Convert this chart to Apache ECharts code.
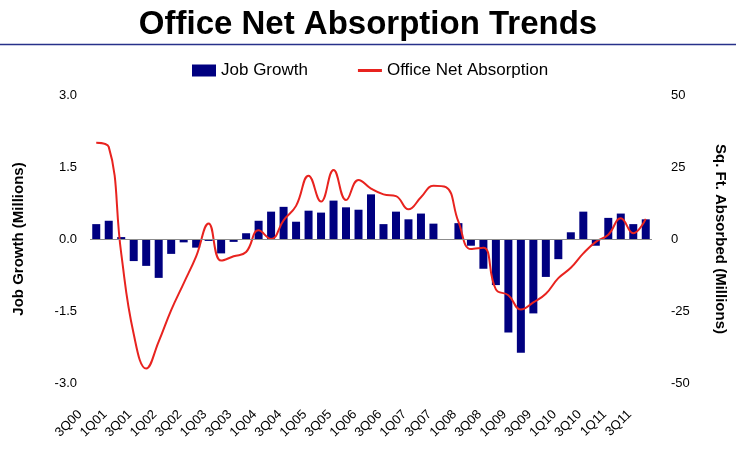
<!DOCTYPE html>
<html>
<head>
<meta charset="utf-8">
<script src="https://cdn.jsdelivr.net/npm/echarts@6/dist/echarts.min.js"></script>
<style>
  html, body { margin: 0; padding: 0; background: #ffffff; }
  #chart { width: 736px; height: 454px; }
</style>
</head>
<body>
<div id="chart"></div>
<script>
const quarters = [
  "3Q00","4Q00",
  "1Q01","2Q01","3Q01","4Q01",
  "1Q02","2Q02","3Q02","4Q02",
  "1Q03","2Q03","3Q03","4Q03",
  "1Q04","2Q04","3Q04","4Q04",
  "1Q05","2Q05","3Q05","4Q05",
  "1Q06","2Q06","3Q06","4Q06",
  "1Q07","2Q07","3Q07","4Q07",
  "1Q08","2Q08","3Q08","4Q08",
  "1Q09","2Q09","3Q09","4Q09",
  "1Q10","2Q10","3Q10","4Q10",
  "1Q11","2Q11","3Q11"
];

// Job Growth (Millions) - left axis
const jobGrowth = [
  0.31, 0.38,
  0.04, -0.46, -0.56, -0.81,
  -0.31, -0.07, -0.18, -0.04,
  -0.30, -0.06, 0.12, 0.38,
  0.57, 0.67, 0.36, 0.59,
  0.55, 0.80, 0.66, 0.61,
  0.93, 0.31, 0.57, 0.41,
  0.53, 0.32, 0.00, 0.33,
  -0.14, -0.62, -0.96, -1.95,
  -2.37, -1.55, -0.79, -0.42,
  0.14, 0.57, -0.14, 0.44,
  0.53, 0.31, 0.41
];

// Office Net Absorption, Sq. Ft. Absorbed (Millions) - right axis
const netAbsorption = [
  33.4, 32.0,
  -5.0, -33.0, -45.0, -35.6,
  -24.7, -15.4, -6.0, 5.4,
  -7.5, -6.0, -4.5, 3.0,
  0.0, 6.5, 11.5, 22.0,
  13.0, 24.0, 13.5, 20.5,
  17.5, 15.5, 14.9, 10.3,
  14.5, 18.5, 18.0, 6.0,
  -3.5, -3.0, -17.5, -19.5,
  -24.5, -22.0, -19.0, -13.6,
  -10.0, -5.0, -1.0, 1.5,
  7.2, 2.0, 7.0
];

const leftTicks = [-3.0, -1.5, 0.0, 1.5, 3.0];
const rightTicks = [-50, -25, 0, 25, 50];

const FONT = '"Liberation Sans", Arial, sans-serif';

const chart = echarts.init(document.getElementById('chart'), null, { renderer: 'canvas' });

chart.setOption({
  backgroundColor: '#ffffff',
  animation: false,
  textStyle: { fontFamily: FONT },
  title: {
    text: 'Office Net Absorption Trends',
    left: 'center',
    top: 3,
    textStyle: { fontFamily: FONT, fontSize: 33, fontWeight: 'bold', color: '#000000' }
  },
  graphic: [
    {
      type: 'line',
      shape: { x1: 0, y1: 44.5, x2: 736, y2: 44.5 },
      style: { stroke: '#27318a', lineWidth: 1.5 },
      silent: true
    }
  ],
  legend: {
    left: 187,
    top: 57,
    itemWidth: 24,
    itemHeight: 12,
    itemGap: 50,
    symbolKeepAspect: true,
    textStyle: { fontFamily: FONT, fontSize: 17, color: '#000000' },
    data: [
      { name: 'Job Growth', icon: 'rect' },
      { name: 'Office Net Absorption', icon: 'path://M0,0H24V3H0Z' }
    ]
  },
  grid: {
    left: 90,
    right: 76,
    top: 95,
    bottom: 71,
    containLabel: false
  },
  xAxis: {
    type: 'category',
    data: quarters,
    boundaryGap: true,
    axisLine: { show: false, onZero: false },
    axisTick: { show: false },
    splitLine: { show: false },
    axisLabel: {
      interval: 1,
      rotate: 45,
      margin: 13,
      padding: [0, 23, 0, 0],
      fontFamily: FONT,
      fontSize: 13,
      color: '#000000'
    }
  },
  yAxis: [
    {
      type: 'value',
      min: leftTicks[0],
      max: leftTicks[leftTicks.length - 1],
      interval: 1.5,
      position: 'left',
      axisLine: { show: false },
      axisTick: { show: false },
      splitLine: { show: false },
      axisLabel: {
        margin: 13,
        fontFamily: FONT,
        fontSize: 13,
        color: '#000000',
        formatter: v => v.toFixed(1)
      },
      name: 'Job Growth (Millions)',
      nameLocation: 'middle',
      nameRotate: 90,
      nameGap: 64,
      nameTextStyle: { fontFamily: FONT, fontSize: 15, fontWeight: 'bold', color: '#000000' }
    },
    {
      type: 'value',
      min: rightTicks[0],
      max: rightTicks[rightTicks.length - 1],
      interval: 25,
      position: 'right',
      axisLine: { show: false },
      axisTick: { show: false },
      splitLine: { show: false },
      axisLabel: {
        margin: 19,
        fontFamily: FONT,
        fontSize: 13,
        color: '#000000'
      },
      name: 'Sq. Ft. Absorbed (Millions)',
      nameLocation: 'middle',
      nameRotate: -90,
      nameGap: 61,
      nameTextStyle: { fontFamily: FONT, fontSize: 15, fontWeight: 'bold', color: '#000000' }
    }
  ],
  series: [
    {
      name: 'Job Growth',
      type: 'bar',
      yAxisIndex: 0,
      data: jobGrowth,
      barWidth: 8,
      itemStyle: { color: '#000080' },
      markLine: {
        silent: true,
        symbol: ['none', 'none'],
        label: { show: false },
        lineStyle: { color: '#8c8c8c', width: 1.2, type: 'solid' },
        data: [{ yAxis: 0 }]
      },
      z: 2
    },
    {
      name: 'Office Net Absorption',
      type: 'line',
      yAxisIndex: 1,
      data: netAbsorption,
      smooth: 0.45,
      symbol: 'none',
      lineStyle: { color: '#e8231f', width: 2 },
      itemStyle: { color: '#e8231f' },
      z: 3
    }
  ]
});
</script>
</body>
</html>
